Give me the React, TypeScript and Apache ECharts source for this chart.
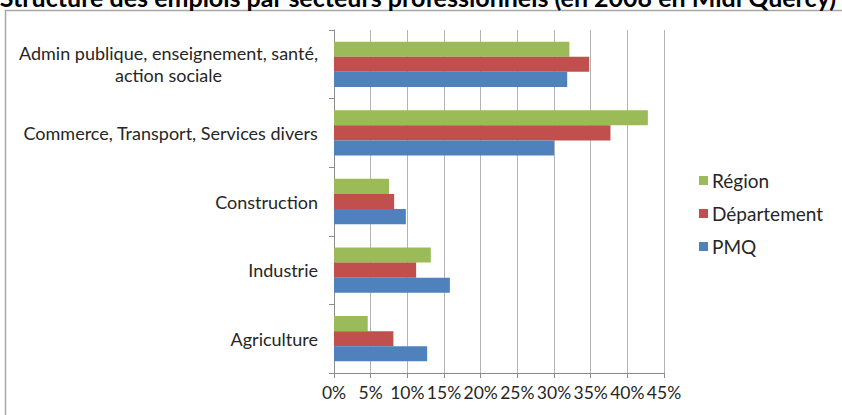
import React, { useEffect, useRef } from "react";
import * as echarts from "echarts";

const titleText = "Structure des emplois par secteurs professionnels (en 2008 en Midi Quercy)";
const categories = [
  "Agriculture",
  "Industrie",
  "Construction",
  "Commerce, Transport, Services divers",
  "Admin publique, enseignement, santé,\naction sociale",
];
const seriesNames = ["Région", "Département", "PMQ"];
const regionValues = [4.6, 13.2, 7.5, 42.8, 32.1];
const departementValues = [8.1, 11.2, 8.2, 37.7, 34.8];
const pmqValues = [12.7, 15.8, 9.8, 30.0, 31.8];
const colors = ["#9BBB59", "#C0504D", "#4F81BD"];

export default function App() {
  const ref = useRef<HTMLDivElement>(null);
  useEffect(() => {
    document.body.style.margin = "0";
    const chart = echarts.init(ref.current!, null, { renderer: "svg" });
    const font = "Lato";
    const fs = 18;
    const dataSets = [regionValues, departementValues, pmqValues];
    chart.setOption({
      animation: false,
      backgroundColor: "#ffffff",
      graphic: [
        {
          type: "rect",
          shape: { x: 5.5, y: 10.5, width: 900, height: 500 },
          style: { fill: "none", stroke: "#a6a6a6", lineWidth: 1.5 },
          z: 0,
        },
        {
          type: "text",
          x: 418,
          y: 9,
          style: {
            text: titleText,
            font: "bold 25px Lato",
            fill: "#000000",
            textAlign: "center",
            textVerticalAlign: "bottom",
          },
          z: 10,
        },
      ],
      grid: { left: 334, top: 30, width: 330, height: 343, containLabel: false },
      legend: {
        orient: "vertical",
        left: 694,
        top: 166,
        itemWidth: 9,
        itemHeight: 9,
        itemGap: 14,
        icon: "rect",
        data: seriesNames,
        textStyle: { fontFamily: font, fontSize: 19, color: "#262626", padding: [0, 0, 0, -1] },
      },
      xAxis: {
        type: "value",
        min: 0,
        max: 45,
        interval: 5,
        axisLine: { show: true, lineStyle: { color: "#8c8c8c", width: 1 } },
        axisTick: { show: true, length: 5, lineStyle: { color: "#8c8c8c" } },
        splitLine: { show: true, lineStyle: { color: "#b3b3b3", width: 1 } },
        axisLabel: {
          formatter: (v: number) => v + "%",
          fontFamily: font,
          fontSize: 17.5,
          color: "#262626",
          margin: 10,
        },
      },
      yAxis: {
        type: "category",
        data: categories,
        axisLine: { show: true, lineStyle: { color: "#8c8c8c", width: 1 } },
        axisTick: { show: true, length: 5, lineStyle: { color: "#8c8c8c" } },
        axisLabel: {
          fontFamily: font,
          fontSize: fs,
          color: "#262626",
          margin: 16,
          lineHeight: 22,
          formatter: (v: string) =>
            v
              .split("\n")
              .map((l) => "{c|" + l + "}")
              .join("\n"),
          rich: { c: { align: "center", fontFamily: font, fontSize: fs, color: "#262626", lineHeight: 22 } },
        },
      },
      series: seriesNames.map((name, i) => ({
        name,
        type: "bar",
        data: dataSets[i],
        itemStyle: { color: colors[i] },
        barGap: "0%",
        barCategoryGap: "34%",
      })),
    });
    return () => chart.dispose();
  }, []);
  return <div ref={ref} style={{ position: "absolute", left: 0, top: 0, width: 842, height: 415 }} />;
}
